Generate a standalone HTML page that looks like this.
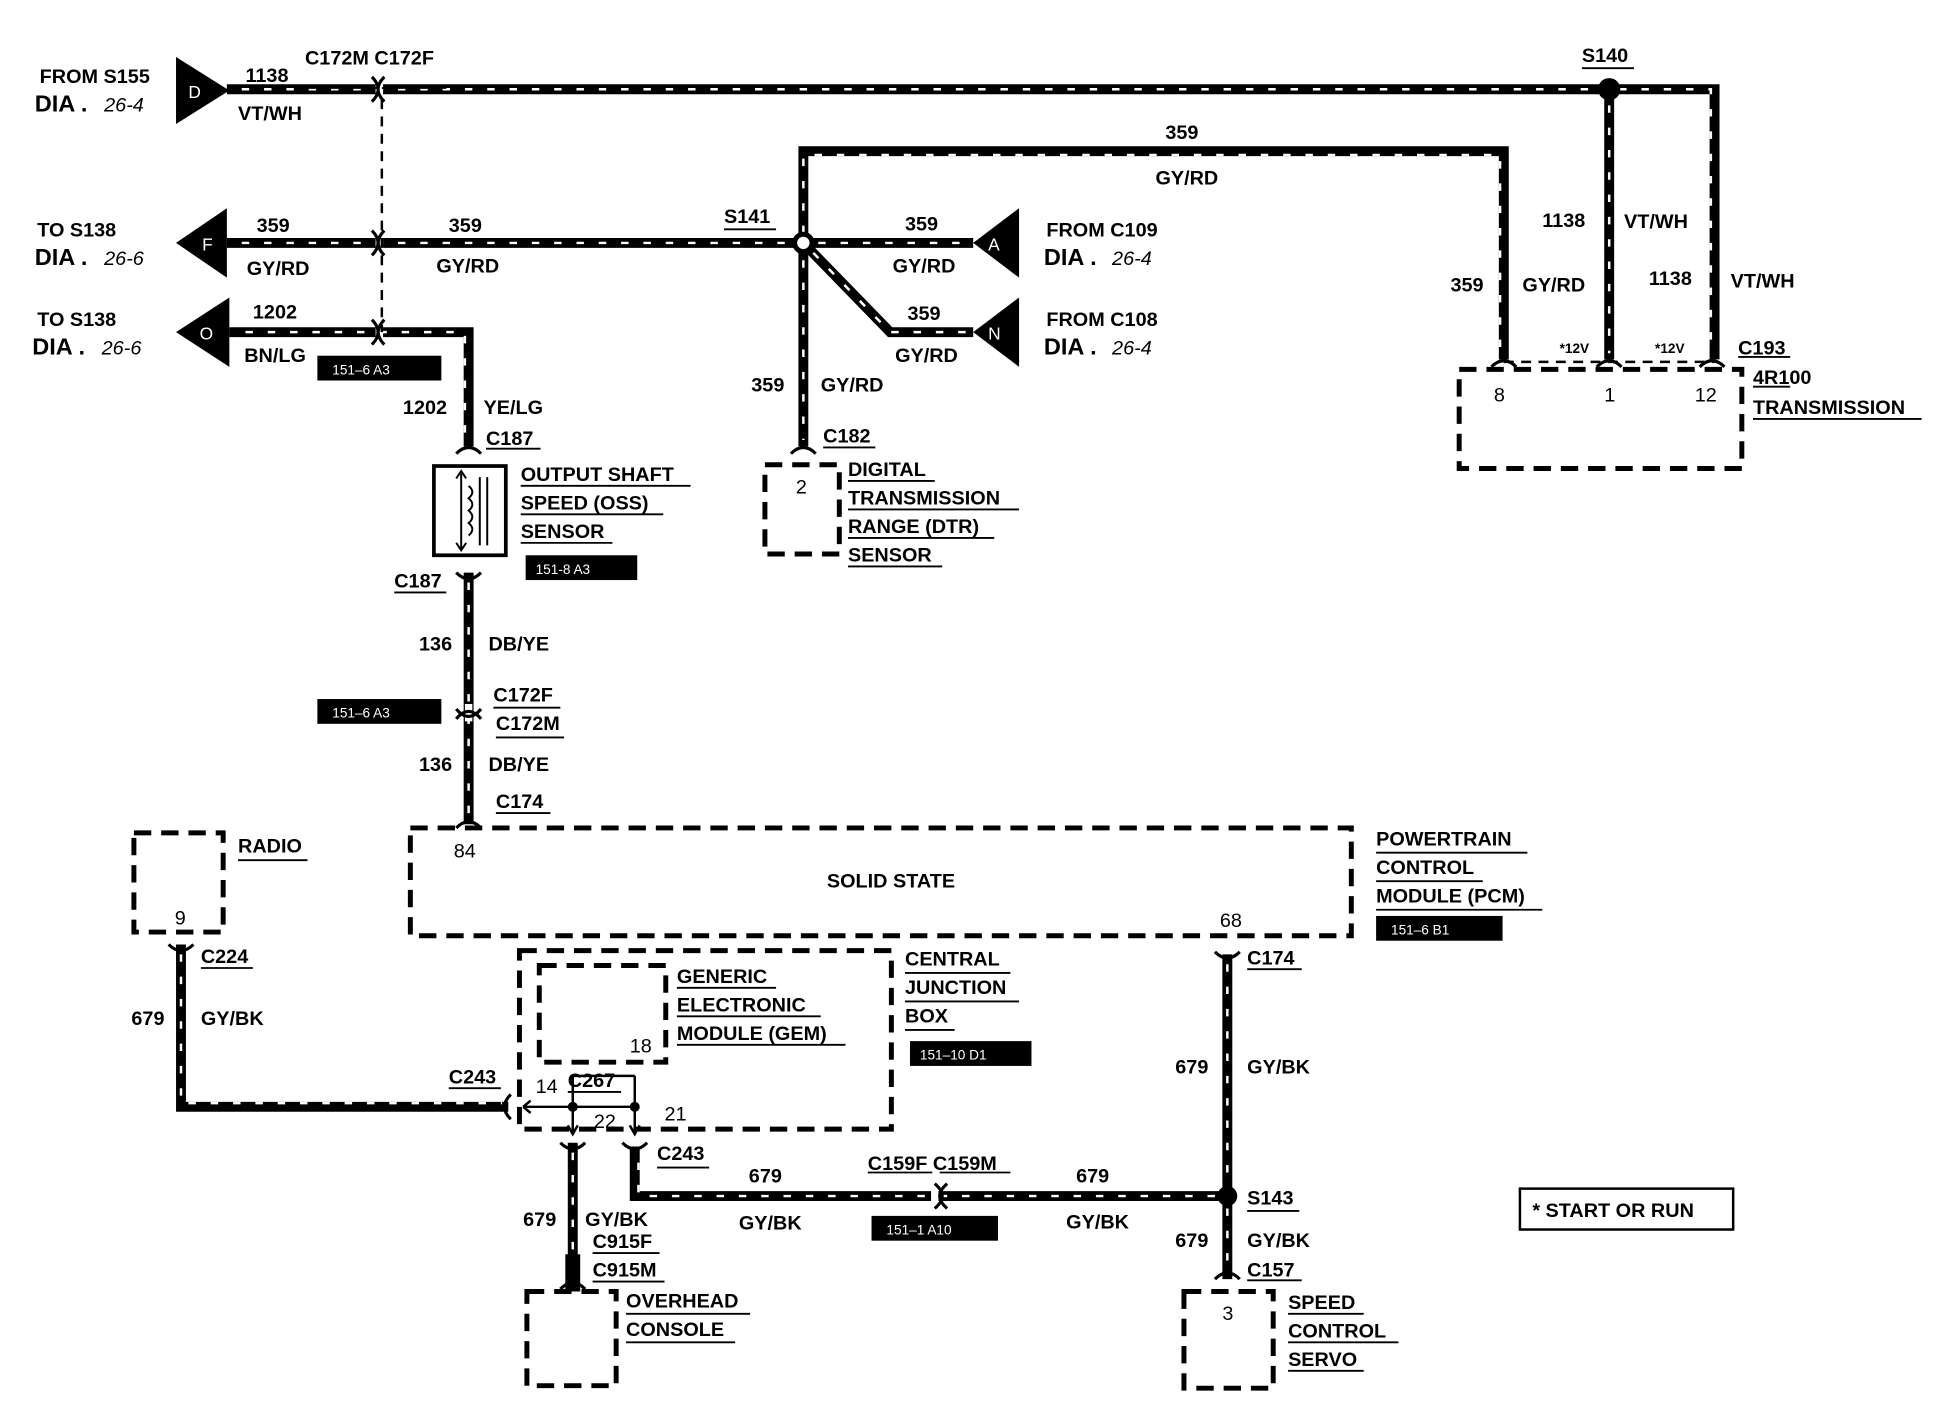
<!DOCTYPE html>
<html><head><meta charset="utf-8"><style>
html,body{margin:0;padding:0;background:#fff}
svg{display:block}
text{font-family:"Liberation Sans",sans-serif;font-weight:bold;font-size:16px;fill:#000}
.i{font-style:italic;font-weight:normal}
.w{fill:#fff;font-weight:normal;font-size:11px}
</style></head><body>
<svg width="1934" height="1408" viewBox="0 0 1560 1136" preserveAspectRatio="none" xmlns="http://www.w3.org/2000/svg">
<defs>
<g id="wire"></g>
</defs>
<g fill="none" stroke="#000" stroke-width="8" stroke-linejoin="miter">
<path d="M183 72H1383V290"/>
<path d="M1298 72V290"/>
<path d="M183 196H648"/>
<path d="M185 268H378V360"/>
<path d="M648 196V122H1213V290"/>
<path d="M648 196H785"/>
<path d="M648 196L718 268H785"/>
<path d="M648 196V360"/>
<path d="M378 462V665"/>
<path d="M146 762V893H410"/>
<path d="M990 770V1032"/>
<path d="M990 965H512V925"/>
<path d="M462 922V1040"/>
</g>
<g fill="none" stroke="#fff" stroke-width="2" stroke-dasharray="6 12">
<path d="M195 72H1290M1306 72H1380V285"/>
<path d="M1298 85V285"/>
<path d="M195 196H640"/>
<path d="M198 268H375V355"/>
<path d="M648 188V125H1210V285"/>
<path d="M660 196H780"/>
<path d="M656 204L718 268H780"/>
<path d="M648 210V355"/>
<path d="M378 470V660"/>
<path d="M146 770V890H405"/>
<path d="M990 778V958M990 975V1025"/>
<path d="M980 965H515V930"/>
<path d="M462 930V1030"/>
</g>
<!-- splice dots -->
<circle cx="1298" cy="72" r="9" fill="#000"/>
<circle cx="648" cy="196" r="9" fill="#000"/>
<circle cx="648" cy="196" r="5" fill="#fff"/>
<circle cx="990" cy="965" r="8" fill="#000"/>
<circle cx="462" cy="893" r="4" fill="#000"/>
<circle cx="512" cy="893" r="4" fill="#000"/>
<!-- inline connectors -->
<g fill="none" stroke="#fff" stroke-width="6"><path d="M306 60V84M306 184V208M306 256V280M378 568V582M754 953V977"/></g>
<g fill="none" stroke="#000" stroke-width="2.5">
<path d="M300 62Q310 72 300 82M310 62Q300 72 310 82"/>
<path d="M300 186Q310 196 300 206M310 186Q300 196 310 206"/>
<path d="M300 258Q310 268 300 278M310 258Q300 268 310 278"/>
<path d="M368 580Q378 568 388 580M368 572Q378 584 388 572"/>
<path d="M764 955Q752 965 764 975M754 955Q766 965 754 975"/>
<path d="M368 366Q378 356 388 366M368 462Q378 472 388 462"/>
<path d="M638 366Q648 356 658 366M368 668Q378 658 388 668"/>
<path d="M1203 296Q1213 286 1223 296M1288 296Q1298 286 1308 296M1371 296Q1381 286 1391 296"/>
<path d="M136 762Q146 772 156 762M980 768Q990 778 1000 768M980 1032Q990 1022 1000 1032"/>
<path d="M412 883Q402 893 412 903M452 922Q462 932 472 922M502 922Q512 932 522 922"/>
<path d="M452 1040Q462 1030 472 1040"/>
</g>
<!-- dashed stuff -->
<g fill="none" stroke="#000" stroke-width="2" stroke-dasharray="8 6">
<path d="M308 80V268"/>
<path d="M1213 292H1383"/>
</g>
<g fill="none" stroke="#000" stroke-width="4" stroke-dasharray="14 8">
<rect x="1177" y="298" width="228" height="80"/>
<rect x="617" y="375" width="60" height="72"/>
<rect x="331" y="668" width="759" height="87"/>
<rect x="108" y="672" width="72" height="80"/>
<rect x="419" y="767" width="300" height="144"/>
<rect x="435" y="779" width="102" height="78"/>
<rect x="425" y="1042" width="72" height="76"/>
<rect x="955" y="1042" width="72" height="78"/>
</g>
<!-- GEM internals -->
<g fill="none" stroke="#000" stroke-width="2">
<path d="M422 893H512M462 868H512M462 868V915M512 868V915M458 908L462 915L466 908M508 908L512 915L516 908M422 893L428 888M422 893L428 898"/>
</g>
<rect x="456" y="1012" width="12" height="30" fill="#000"/>
<!-- OSS sensor -->
<rect x="350" y="376" width="58" height="72" fill="none" stroke="#000" stroke-width="3"/>
<path d="M372 382V443M368 386L372 380L376 386M368 438L372 444L376 438M378 392q6 5 0 10q6 5 0 10q6 5 0 10q6 5 0 10M387 385V440M393 385V440" fill="none" stroke="#000" stroke-width="1.6"/>
<!-- triangles -->
<g fill="#000">
<polygon points="142,46 142,100 185,73"/>
<polygon points="142,196 183,168 183,224"/>
<polygon points="142,268 185,240 185,296"/>
<polygon points="785,196 822,168 822,224"/>
<polygon points="785,268 822,240 822,296"/>
</g>
<g class="w" style="font-size:14px">
<text x="152" y="79" class="w" style="font-size:14px">D</text>
<text x="163" y="202" class="w" style="font-size:14px">F</text>
<text x="161" y="274" class="w" style="font-size:14px">O</text>
<text x="797" y="202" class="w" style="font-size:14px">A</text>
<text x="797" y="274" class="w" style="font-size:14px">N</text>
</g>
<!-- black label boxes -->
<g fill="#000">
<rect x="256" y="287" width="100" height="20"/>
<rect x="424" y="448" width="90" height="20"/>
<rect x="256" y="564" width="100" height="20"/>
<rect x="1110" y="739" width="102" height="20"/>
<rect x="734" y="840" width="98" height="20"/>
<rect x="703" y="981" width="102" height="20"/>
</g>
<text class="w" x="268" y="302">151–6 A3</text>
<text class="w" x="432" y="463">151-8 A3</text>
<text class="w" x="268" y="579">151–6 A3</text>
<text class="w" x="1122" y="754">151–6 B1</text>
<text class="w" x="742" y="855">151–10 D1</text>
<text class="w" x="715" y="996">151–1 A10</text>
<!-- start or run -->
<rect x="1226" y="959" width="172" height="33" fill="none" stroke="#000" stroke-width="2"/>
<text x="1236" y="982">* START OR RUN</text>
<!-- underlines -->
<g stroke="#000" stroke-width="1.5">
<path d="M246 71H304M308 71H360M1276 55H1318M584 185H626M392 362H436M664 361H706M318 478H360M398 571H452M400 595H455M400 656H444M1402 288H1444M1414 312H1444M1414 338H1550M420 392H557M420 415H535M420 438H494M684 388H754M684 411H822M684 434H802M684 457H760M1110 688H1232M1110 711H1196M1110 734H1244M192 694H248M162 781H204M546 797H626M546 820H662M546 843H682M730 785H815M730 808H822M730 831H770M362 878H404M458 881H501M530 942H572M700 946H752M758 946H815M478 1011H532M478 1034H536M505 1060H605M505 1083H593M1006 782H1050M1006 977H1048M1006 1033H1050M1039 1060H1100M1039 1083H1128M1039 1106H1100"/>
</g>
<!-- labels -->
<text x="32" y="67">FROM S155</text>
<text x="28" y="90" style="font-size:19px">DIA .</text><text class="i" x="84" y="90">26-4</text>
<text x="30" y="191">TO S138</text>
<text x="28" y="214" style="font-size:19px">DIA .</text><text class="i" x="84" y="214">26-6</text>
<text x="30" y="263">TO S138</text>
<text x="26" y="286" style="font-size:19px">DIA .</text><text class="i" x="82" y="286">26-6</text>
<text x="198" y="66">1138</text>
<text x="246" y="52">C172M C172F</text>
<text x="192" y="97">VT/WH</text>
<text x="207" y="187">359</text>
<text x="199" y="222">GY/RD</text>
<text x="362" y="187">359</text>
<text x="352" y="220">GY/RD</text>
<text x="204" y="257">1202</text>
<text x="197" y="292">BN/LG</text>
<text x="325" y="334">1202</text>
<text x="390" y="334">YE/LG</text>
<text x="392" y="359">C187</text>
<text x="420" y="388">OUTPUT SHAFT</text>
<text x="420" y="411">SPEED (OSS)</text>
<text x="420" y="434">SENSOR</text>
<text x="318" y="474">C187</text>
<text x="338" y="525">136</text>
<text x="394" y="525">DB/YE</text>
<text x="398" y="566">C172F</text>
<text x="400" y="589">C172M</text>
<text x="338" y="622">136</text>
<text x="394" y="622">DB/YE</text>
<text x="400" y="652">C174</text>
<text x="584" y="180">S141</text>
<text x="730" y="186">359</text>
<text x="720" y="220">GY/RD</text>
<text x="732" y="258">359</text>
<text x="722" y="292">GY/RD</text>
<text x="606" y="316">359</text>
<text x="662" y="316">GY/RD</text>
<text x="664" y="357">C182</text>
<text x="642" y="398" style="font-weight:normal">2</text>
<text x="684" y="384">DIGITAL</text>
<text x="684" y="407">TRANSMISSION</text>
<text x="684" y="430">RANGE (DTR)</text>
<text x="684" y="453">SENSOR</text>
<text x="844" y="191">FROM C109</text>
<text x="842" y="214" style="font-size:19px">DIA .</text><text class="i" x="897" y="214">26-4</text>
<text x="844" y="263">FROM C108</text>
<text x="842" y="286" style="font-size:19px">DIA .</text><text class="i" x="897" y="286">26-4</text>
<text x="940" y="112">359</text>
<text x="932" y="149">GY/RD</text>
<text x="1276" y="50">S140</text>
<text x="1244" y="183">1138</text>
<text x="1310" y="184">VT/WH</text>
<text x="1170" y="235">359</text>
<text x="1228" y="235">GY/RD</text>
<text x="1330" y="230">1138</text>
<text x="1396" y="232">VT/WH</text>
<text x="1258" y="285" style="font-size:11px">*12V</text>
<text x="1335" y="285" style="font-size:11px">*12V</text>
<text x="1402" y="286">C193</text>
<text x="1414" y="310">4R100</text>
<text x="1414" y="334">TRANSMISSION</text>
<text x="1205" y="324" style="font-weight:normal">8</text>
<text x="1294" y="324" style="font-weight:normal">1</text>
<text x="1367" y="324" style="font-weight:normal">12</text>
<text x="366" y="692" style="font-weight:normal">84</text>
<text x="667" y="716">SOLID STATE</text>
<text x="984" y="748" style="font-weight:normal">68</text>
<text x="1110" y="682">POWERTRAIN</text>
<text x="1110" y="705">CONTROL</text>
<text x="1110" y="728">MODULE (PCM)</text>
<text x="192" y="688">RADIO</text>
<text x="141" y="746" style="font-weight:normal">9</text>
<text x="162" y="777">C224</text>
<text x="106" y="827">679</text>
<text x="162" y="827">GY/BK</text>
<text x="362" y="874">C243</text>
<text x="546" y="793">GENERIC</text>
<text x="546" y="816">ELECTRONIC</text>
<text x="546" y="839">MODULE (GEM)</text>
<text x="508" y="849" style="font-weight:normal">18</text>
<text x="730" y="779">CENTRAL</text>
<text x="730" y="802">JUNCTION</text>
<text x="730" y="825">BOX</text>
<text x="432" y="882" style="font-weight:normal">14</text>
<text x="458" y="877">C267</text>
<text x="479" y="910" style="font-weight:normal">22</text>
<text x="536" y="904" style="font-weight:normal">21</text>
<text x="530" y="936">C243</text>
<text x="604" y="954">679</text>
<text x="596" y="992">GY/BK</text>
<text x="700" y="944">C159F C159M</text>
<text x="868" y="954">679</text>
<text x="860" y="991">GY/BK</text>
<text x="422" y="989">679</text>
<text x="472" y="989">GY/BK</text>
<text x="478" y="1007">C915F</text>
<text x="478" y="1030">C915M</text>
<text x="505" y="1055">OVERHEAD</text>
<text x="505" y="1078">CONSOLE</text>
<text x="1006" y="778">C174</text>
<text x="948" y="866">679</text>
<text x="1006" y="866">GY/BK</text>
<text x="1006" y="972">S143</text>
<text x="948" y="1006">679</text>
<text x="1006" y="1006">GY/BK</text>
<text x="1006" y="1030">C157</text>
<text x="986" y="1065" style="font-weight:normal">3</text>
<text x="1039" y="1056">SPEED</text>
<text x="1039" y="1079">CONTROL</text>
<text x="1039" y="1102">SERVO</text>
</svg>
</body></html>
